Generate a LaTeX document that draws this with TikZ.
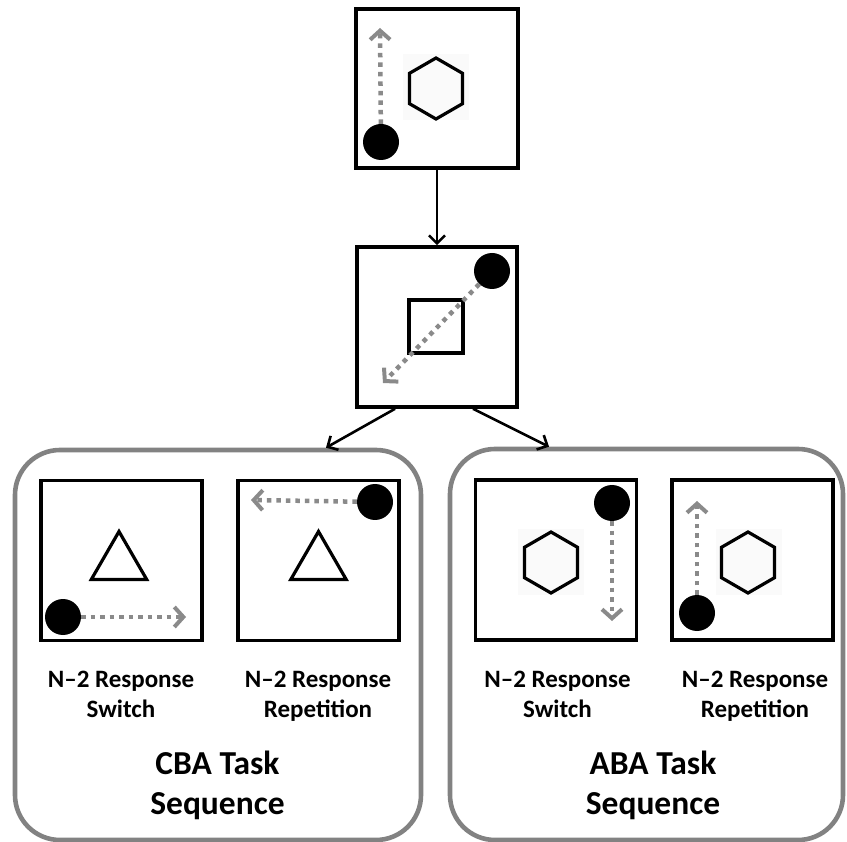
\documentclass[tikz,border=0pt]{standalone}
\usepackage{fontspec}
\setmainfont{Carlito}
\usetikzlibrary{arrows.meta,shapes.geometric}
\definecolor{arrgray}{HTML}{8A8A8A}
\definecolor{boxgray}{HTML}{828282}
\definecolor{hexbg}{HTML}{FAFAFA}
\tikzset{
  frame/.style={draw=black, line width=3.6pt, inner sep=0pt, minimum width=161pt, minimum height=160pt},
  seqbox/.style={draw=boxgray, line width=4.6pt, rounded corners=45pt, inner sep=0pt},
  dot/.style={circle, fill=black, inner sep=0pt, minimum size=36pt},
  hexa/.style={regular polygon, regular polygon sides=6, shape border rotate=30, draw=black, fill=hexbg, line width=3.2pt, inner sep=0pt, minimum size=61pt},
  tri/.style={regular polygon, regular polygon sides=3, draw=black, line width=3.2pt, inner sep=0pt, minimum size=64pt},
  hexback/.style={fill=hexbg, inner sep=0pt, minimum width=66pt, minimum height=66pt},
  garrow/.style={draw=arrgray, line width=4.5pt, dash pattern=on 4.5pt off 5pt, -{Straight Barb[length=9pt,width=20pt,line width=4pt]}},
  conn/.style={draw=black, line width=2.6pt, -{Straight Barb[length=8pt,width=16pt,line width=2.6pt]}},
  small/.style={font=\fontsize{25}{30}\selectfont\bfseries, anchor=base, inner sep=0pt},
  big/.style={font=\fontsize{33.5}{40}\selectfont\bfseries, anchor=base, inner sep=0pt}
}
\begin{document}
\begin{tikzpicture}[x=1pt,y=-1pt]
\useasboundingbox (0,0) rectangle (847,842);
% rounded sequence boxes
\node[seqbox, minimum width=406pt, minimum height=390pt] (cba) at (218,645) {};
\node[seqbox, minimum width=393pt, minimum height=391pt] (aba) at (646.5,644.5) {};

% top frame
\node[frame, minimum width=162pt, minimum height=159pt] (top) at (437,88.5) {};
\node[hexback] (topbg) at (435.5,87.5) {};
\node[hexa] (tophex) at (436,88.5) {};
\node[dot] (topdot) at (381,142) {};
\coordinate (toptip) at (380,28);
\draw[garrow] (topdot) -- (toptip);

% middle frame
\node[frame, minimum width=160pt, minimum height=160pt] (mid) at (437,327) {};
\node[draw=black, line width=3.2pt, inner sep=0pt, minimum width=54pt, minimum height=53pt] (midsq) at (436,326.5) {};
\node[dot] (middot) at (492,271) {};
\coordinate (midtip) at (383,383);
\draw[garrow] (middot) -- (midtip);

% connectors
\draw[conn] (top.south) -- (mid.north);
\draw[conn] ([xshift=-42pt]mid.south) -- ([xshift=108pt]cba.north);
\draw[conn] ([xshift=36pt]mid.south) -- ([xshift=-97.5pt]aba.north);

% CBA switch
\node[frame] (cbasw) at (121.5,560.5) {};
\node[tri] (cbaswtri) at (119,563.5) {};
\node[dot] (cbaswdot) at (63,617) {};
\coordinate (cbaswtip) at (186,617);
\draw[garrow] (cbaswdot) -- (cbaswtip);
% CBA repetition
\node[frame] (cbarep) at (318.5,560.5) {};
\node[tri] (cbareptri) at (318.5,563.5) {};
\node[dot] (cbarepdot) at (375,502) {};
\coordinate (cbareptip) at (251,500);
\draw[garrow] (cbarepdot) -- (cbareptip);

% ABA switch
\node[frame] (abasw) at (556,560) {};
\node[hexback] (abaswbg) at (550.5,562) {};
\node[hexa] (abaswhex) at (551,562.5) {};
\node[dot] (abaswdot) at (612,503) {};
\coordinate (abaswtip) at (612,621);
\draw[garrow] (abaswdot) -- (abaswtip);
% ABA repetition
\node[frame] (abarep) at (752.5,560) {};
\node[hexback] (abarepbg) at (748.5,562) {};
\node[hexa] (abarephex) at (748,562.5) {};
\node[dot] (abarepdot) at (697,613) {};
\coordinate (abareptip) at (697,501);
\draw[garrow] (abarepdot) -- (abareptip);

% labels
\node[small] (l1a) at (121,687) {N–2 Response};
\node[small] (l1b) at (121,717) {Switch};
\node[small] (l2a) at (318,687) {N–2 Response};
\node[small] (l2b) at (318,717) {Repetition};
\node[big] (l3a) at (217.5,774) {CBA Task};
\node[big] (l3b) at (217.5,814) {Sequence};

\node[small] (l4a) at (557.5,687) {N–2 Response};
\node[small] (l4b) at (557.5,717) {Switch};
\node[small] (l5a) at (755,687) {N–2 Response};
\node[small] (l5b) at (755,717) {Repetition};
\node[big] (l6a) at (653,774) {ABA Task};
\node[big] (l6b) at (653,814) {Sequence};
\end{tikzpicture}
\end{document}
